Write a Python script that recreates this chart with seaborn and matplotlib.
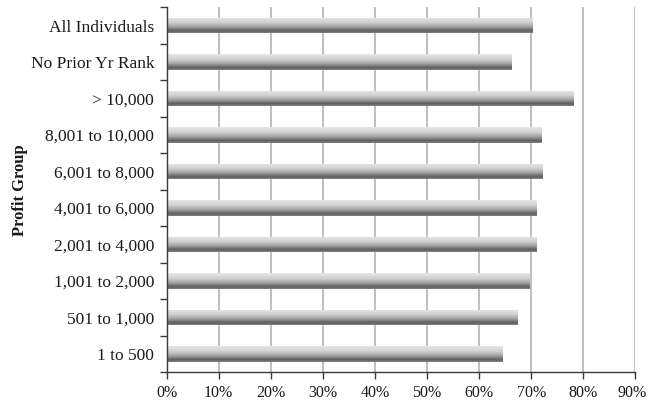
import matplotlib
matplotlib.use("Agg")
import matplotlib.pyplot as plt
import matplotlib.transforms as mtransforms
import seaborn as sns
import numpy as np
import pandas as pd
from matplotlib.colors import LinearSegmentedColormap
from matplotlib.ticker import FuncFormatter, FixedLocator

categories = ["All Individuals", "No Prior Yr Rank", "> 10,000", "8,001 to 10,000",
              "6,001 to 8,000", "4,001 to 6,000", "2,001 to 4,000", "1,001 to 2,000",
              "501 to 1,000", "1 to 500"]
values = [0.702, 0.662, 0.781, 0.719, 0.720, 0.709, 0.709, 0.696, 0.673, 0.644]
x_ticks = [0.0, 0.1, 0.2, 0.3, 0.4, 0.5, 0.6, 0.7, 0.8, 0.9]

df = pd.DataFrame({"group": categories, "share": values})

sns.set_theme(style="white")
plt.rcParams["font.family"] = ["Liberation Serif", "DejaVu Serif"]

fig = plt.figure(figsize=(6.48, 4.01), dpi=100)
ax = fig.add_axes([0.2572, 0.0716, 0.9807 - 0.2572, 0.9818 - 0.0716])

sns.barplot(data=df, x="share", y="group", orient="h", ax=ax, width=0.42,
            color="#999999", saturation=1, zorder=3)

cmap = LinearSegmentedColormap.from_list(
    "bar", [(0.0, "#e6e6e6"), (0.3, "#d4d4d4"), (0.6, "#a4a4a4"),
            (0.85, "#5e5e5e"), (1.0, "#828282")])
grad = np.linspace(0, 1, 256).reshape(-1, 1)

ax.set_xlim(0, 0.9)
ax.set_ylim(9.5, -0.5)
for p in ax.patches:
    x0, y0 = p.get_x(), p.get_y()
    w, h = p.get_width(), p.get_height()
    p.set_facecolor("none")
    p.set_edgecolor("none")
    im = ax.imshow(grad, cmap=cmap, aspect="auto",
                   extent=[x0, x0 + w, y0 + h, y0], zorder=3, origin="upper")
    im.set_clip_path(p)
ax.set_xlim(0, 0.9)
ax.set_ylim(9.5, -0.5)

ax.xaxis.set_major_locator(FixedLocator(x_ticks))
ax.xaxis.set_major_formatter(FuncFormatter(lambda v, _: f"{v*100:.0f}%"))
ax.grid(axis="x", color="#b4b4b4", linewidth=1.2, zorder=0)
ax.grid(axis="y", visible=False)
ax.set_axisbelow(True)

for s in ["top", "right"]:
    ax.spines[s].set_visible(False)
for s in ["left", "bottom"]:
    ax.spines[s].set_color("#3a3a3a")
    ax.spines[s].set_linewidth(1.0)
    ax.spines[s].set_zorder(4)

ax.set_yticks(range(len(categories)))
ax.set_yticklabels(categories)
ax.set_yticks(np.arange(-0.5, len(categories), 1.0), minor=True)
ax.tick_params(axis="y", which="major", length=0, pad=9, labelsize=12.5, labelcolor="#1a1a1a")
ax.tick_params(axis="y", which="minor", left=True, length=5, width=1.0, color="#3a3a3a")
ax.tick_params(axis="x", which="major", bottom=True, length=5, width=1.0, color="#3a3a3a",
               labelsize=11.5, labelcolor="#1a1a1a", pad=4)

ax.set_xlabel("")
ax.set_ylabel("Profit Group", fontsize=12, fontweight="bold", color="#1a1a1a")
ax.yaxis.set_label_coords(-0.295, 0.5)

fig.canvas.draw()
last = ax.xaxis.get_major_ticks()[-1].label1
last.set_transform(last.get_transform() +
                   mtransforms.ScaledTranslation(-3 / 100, 0, fig.dpi_scale_trans))

fig.savefig("out.png", dpi=100)
